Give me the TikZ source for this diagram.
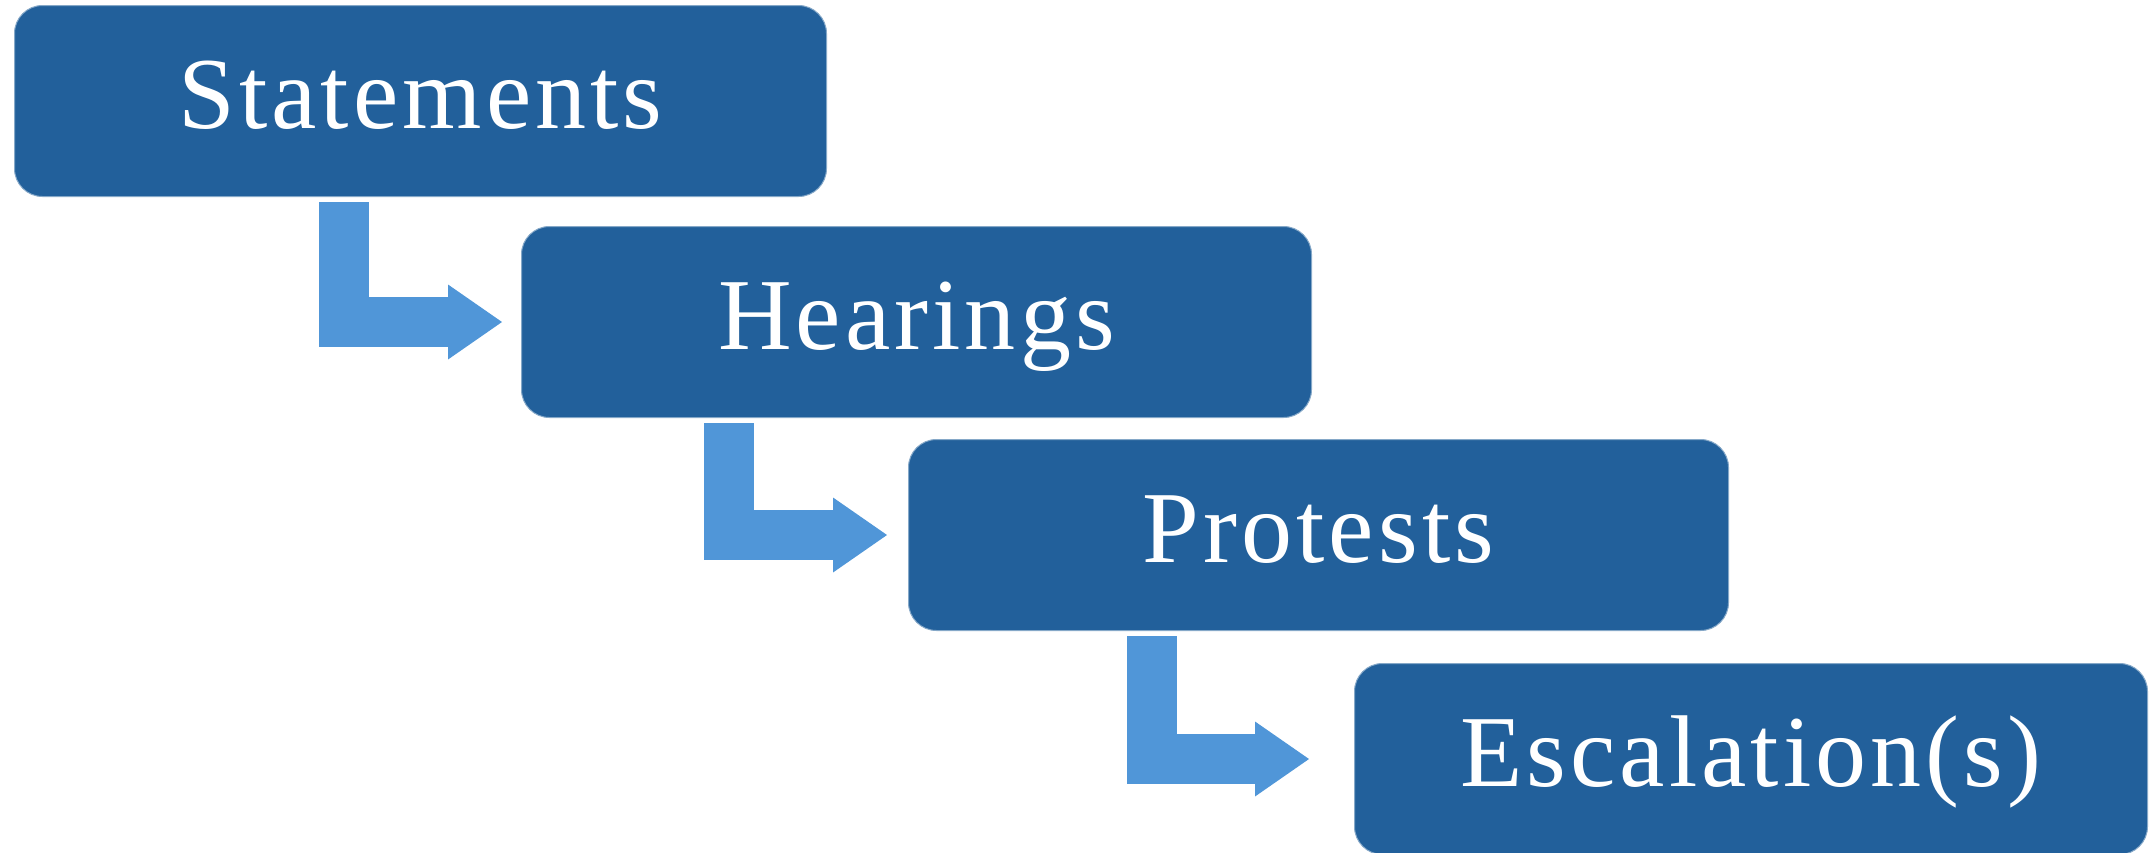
\documentclass[tikz,border=0pt]{standalone}
\usepackage{fontspec}
\setmainfont{Liberation Serif}
\usetikzlibrary{arrows.meta,calc}

\definecolor{boxblue}{RGB}{34,96,155}
\definecolor{arrowblue}{RGB}{80,150,216}

\tikzset{every picture/.style={line width=0.75pt}}
\tikzset{
  stepbox/.style={fill=boxblue, draw=boxblue!55!white, line width=0.5pt, rounded corners=14pt,
    minimum height=95.5pt, inner sep=0pt, text height=34pt, text depth=6.5pt,
    anchor=north west, text=white, font=\fontsize{51}{51}\selectfont\addfontfeature{LetterSpace=4}},
  steparrow/.style={draw=arrowblue, line width=25pt, line join=miter,
    -{Triangle[length=27pt,width=37.5pt,line width=0pt]}}
}

\begin{document}
\begin{tikzpicture}[x=0.5pt,y=0.5pt,yscale=-1,xscale=1]
	\useasboundingbox (0,0) rectangle (2154,852);

	% Step Boxes
	\node[stepbox, minimum width=406pt] (statements) at (14,5) {Statements};
	\node[stepbox, minimum width=395pt] (hearings) at (521,226) {Hearings};
	\node[stepbox, minimum width=410pt] (protests) at (908,439) {Protests};
	\node[stepbox, minimum width=396.5pt] (escalation) at (1354,663) {Escalation(s)};

	% Bent Arrows
	\coordinate (a1) at ($(statements.south -| hearings.west)+(-177,5)$);
	\draw[steparrow] (a1) |- ($(hearings.west)+(-19,0)$);
	\coordinate (a2) at ($(hearings.south -| protests.west)+(-179,5)$);
	\draw[steparrow] (a2) |- ($(protests.west)+(-21,0)$);
	\coordinate (a3) at ($(protests.south -| escalation.west)+(-202,5)$);
	\draw[steparrow] (a3) |- ($(escalation.west)+(-45,0)$);

\end{tikzpicture}
\end{document}
